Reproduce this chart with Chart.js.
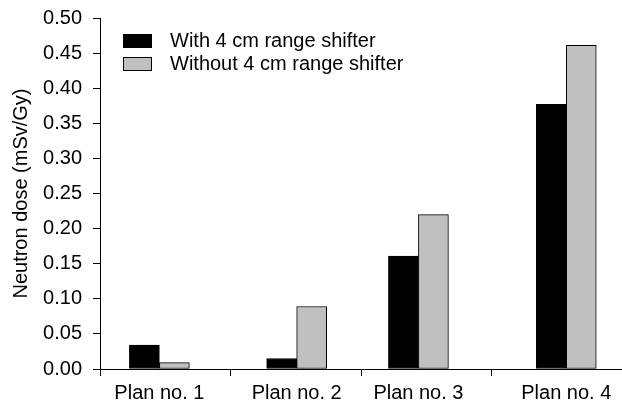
<!DOCTYPE html>
<html>
<head>
<meta charset="utf-8">
<script src="https://cdn.jsdelivr.net/npm/chart.js@4.4.1/dist/chart.umd.min.js"></script>
<style>
  html, body { margin: 0; padding: 0; background: #fff; }
  #wrap { width: 622px; height: 405px; }
</style>
</head>
<body>
<div id="wrap"><canvas id="c" width="622" height="405"></canvas></div>
<script>
// Plans and neutron dose per plan (mSv/Gy)
const categories = ['Plan no. 1', 'Plan no. 2', 'Plan no. 3', 'Plan no. 4'];
const withShifter = [0.034, 0.015, 0.161, 0.377];
const withoutShifter = [0.009, 0.089, 0.220, 0.461];
const seriesNames = ['With 4 cm range shifter', 'Without 4 cm range shifter'];
const yTicks = [0, 0.05, 0.10, 0.15, 0.20, 0.25, 0.30, 0.35, 0.40, 0.45, 0.50];

// Layout: where each plan's bar pair sits along the x axis (axis runs 0..4)
const groupCenters = [0.455, 1.507, 2.44, 3.573];
const dividers = [0, 1, 2, 3];

const FONT = 'Liberation Sans, Arial, sans-serif';

const toPoints = vals => vals.map((v, i) => ({ x: groupCenters[i], y: v }));

// Legend drawn inside the plot area, upper left
const insideLegend = {
  id: 'insideLegend',
  afterDraw(chart) {
    const ctx = chart.ctx;
    ctx.save();
    ctx.font = '20px ' + FONT;
    ctx.textBaseline = 'middle';
    chart.data.datasets.forEach((ds, i) => {
      const y = 34 + 23 * i;
      ctx.fillStyle = ds.backgroundColor;
      ctx.fillRect(123.5, y + 0.5, 28, 13);
      ctx.strokeStyle = '#000';
      ctx.lineWidth = 1;
      ctx.strokeRect(123.5, y + 0.5, 28, 13);
      ctx.fillStyle = '#000';
      ctx.fillText(ds.label, 170, y + 7.5);
    });
    ctx.restore();
  }
};

new Chart(document.getElementById('c'), {
  type: 'bar',
  data: {
    datasets: [
      {
        label: seriesNames[0],
        data: toPoints(withShifter),
        backgroundColor: '#000000',
        borderColor: '#000000',
        borderWidth: 1,
        borderSkipped: false
      },
      {
        label: seriesNames[1],
        data: toPoints(withoutShifter),
        backgroundColor: '#c0c0c0',
        borderColor: '#000000',
        borderWidth: 1,
        borderSkipped: false
      }
    ]
  },
  options: {
    responsive: false,
    animation: false,
    devicePixelRatio: 1,
    barThickness: 30,
    layout: { padding: { top: 18, right: 0, left: 0, bottom: 0 } },
    plugins: {
      legend: { display: false },
      tooltip: { enabled: false }
    },
    scales: {
      x: {
        type: 'linear',
        min: 0,
        max: 4,
        offset: false,
        afterBuildTicks: axis => {
          const t = dividers.map(v => ({ value: v }))
            .concat(groupCenters.map(v => ({ value: v })));
          t.sort((a, b) => a.value - b.value);
          axis.ticks = t;
        },
        afterFit: axis => {
          axis.height = 36;
          axis.paddingLeft = 0;
          axis.paddingRight = 0;
        },
        ticks: {
          autoSkip: false,
          maxRotation: 0,
          padding: 5,
          color: '#000',
          font: { family: FONT, size: 20 },
          callback: function (value) {
            const i = groupCenters.indexOf(value);
            return i >= 0 ? categories[i] : '';
          }
        },
        grid: {
          offset: false,
          drawOnChartArea: false,
          drawTicks: true,
          tickLength: 7,
          tickColor: ctx => (ctx.tick && groupCenters.indexOf(ctx.tick.value) >= 0) ? 'rgba(0,0,0,0)' : '#000',
          tickWidth: 1
        },
        border: { display: true, color: '#000', width: 1 }
      },
      y: {
        min: 0,
        max: 0.5,
        afterBuildTicks: axis => { axis.ticks = yTicks.map(v => ({ value: v })); },
        afterFit: axis => {
          axis.width = 100;
          axis.paddingTop = 0;
          axis.paddingBottom = 0;
        },
        ticks: {
          padding: 11,
          color: '#000',
          font: { family: FONT, size: 20 },
          callback: v => Number(v).toFixed(2)
        },
        grid: {
          drawOnChartArea: false,
          drawTicks: true,
          tickLength: 7,
          tickColor: '#000',
          tickWidth: 1
        },
        border: { display: true, color: '#000', width: 1 },
        title: {
          display: true,
          text: 'Neutron dose (mSv/Gy)',
          color: '#000',
          font: { family: FONT, size: 20 },
          padding: { top: 9, bottom: 0 }
        }
      }
    }
  },
  plugins: [insideLegend]
});
</script>
</body>
</html>
